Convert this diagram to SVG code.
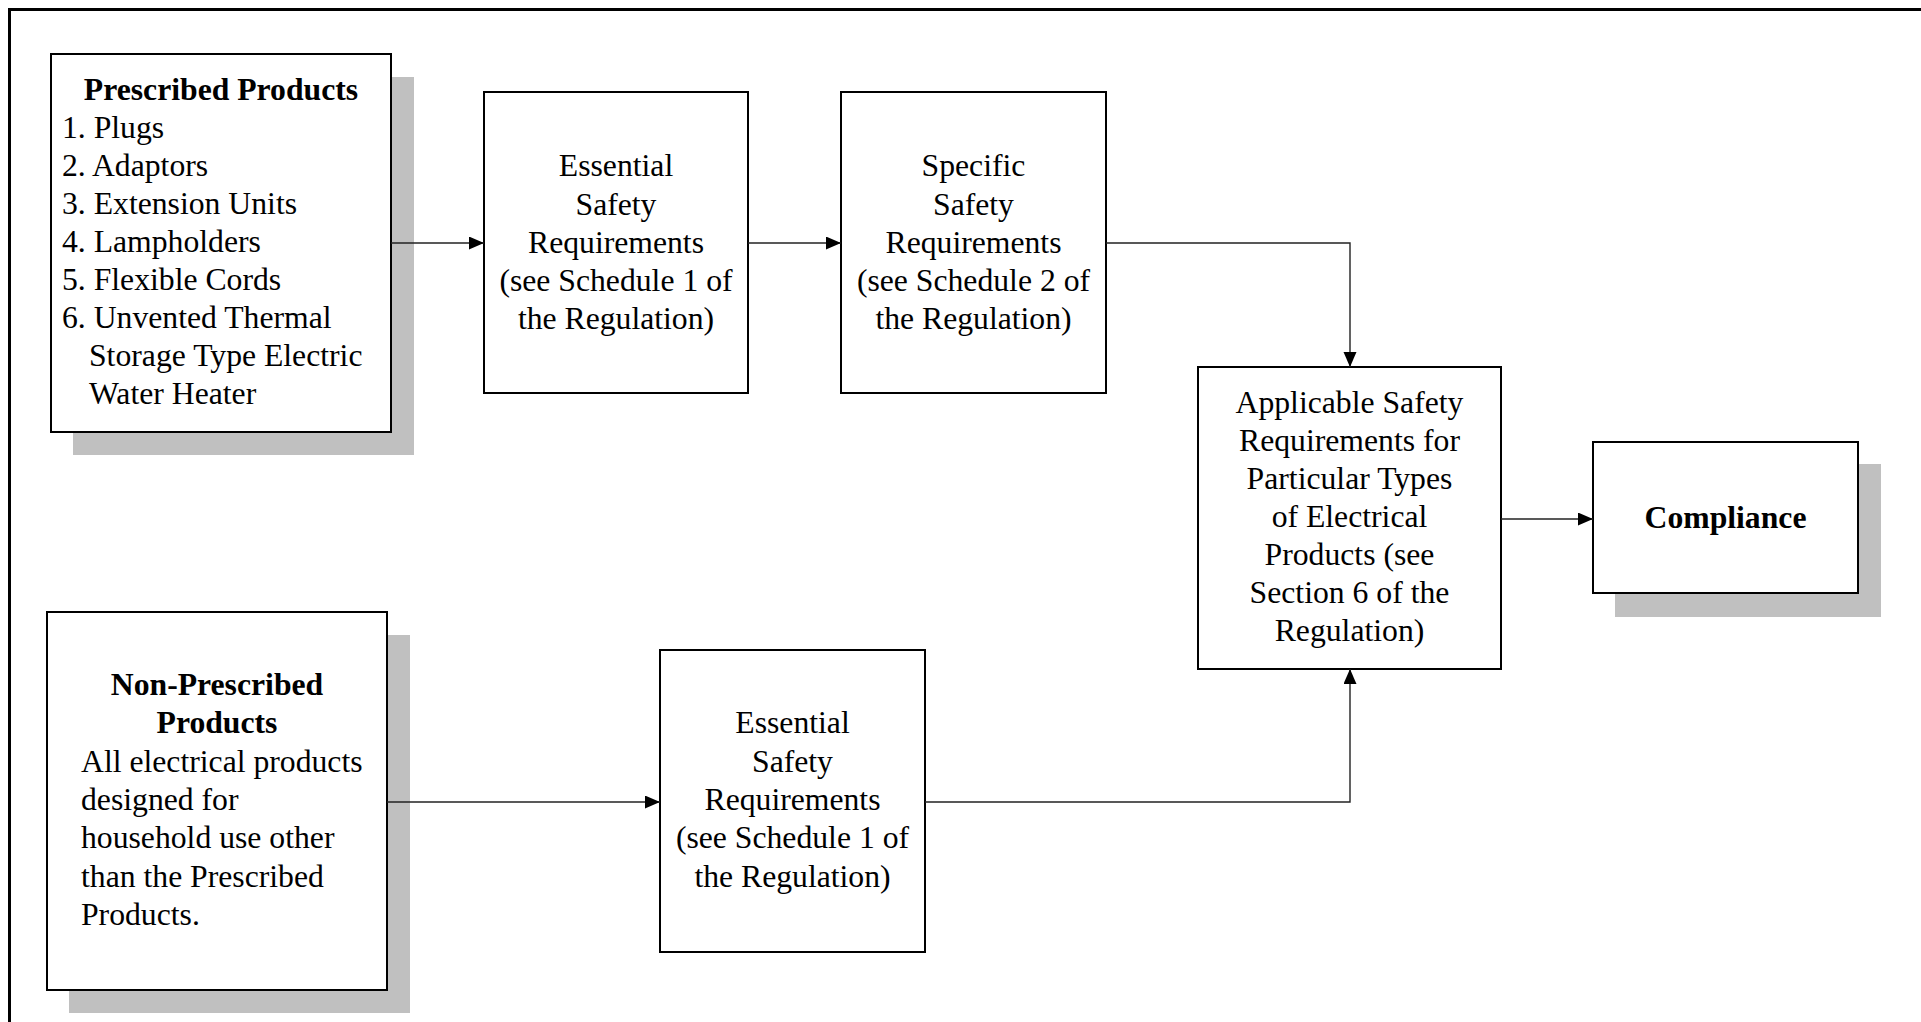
<svg xmlns="http://www.w3.org/2000/svg" width="1921" height="1022" viewBox="0 0 1921 1022">
<style>
.frame{fill:none;stroke:#000;stroke-width:3}
.shadow{fill:#c0c0c0}
.box{fill:#fff;stroke:#000;stroke-width:2}
.t{font-family:"Liberation Serif","Times New Roman",serif;font-size:31.7px;fill:#000}
.c{text-anchor:middle}
.b{font-weight:bold}
.conn{fill:none;stroke:#222;stroke-width:1.4}
</style>
<defs>
<marker id="arr" markerUnits="userSpaceOnUse" markerWidth="16" markerHeight="14" refX="15" refY="6.5" orient="auto">
<path d="M0,0 L15,6.5 L0,13 z" fill="#000"/>
</marker>
</defs>
<rect width="1921" height="1022" fill="#fff"/>
<rect class="frame" x="9.5" y="9.5" width="2000" height="2000"/>

<g id="prescribed">
<rect class="shadow" x="73" y="77" width="341" height="378"/>
<rect class="box" x="51" y="54" width="340" height="378"/>
<text class="t b c" x="221" y="100">Prescribed Products</text>
<text class="t" x="62" y="138">1. Plugs</text>
<text class="t" x="62" y="176">2. Adaptors</text>
<text class="t" x="62" y="214">3. Extension Units</text>
<text class="t" x="62" y="252">4. Lampholders</text>
<text class="t" x="62" y="290">5. Flexible Cords</text>
<text class="t" x="62" y="328">6. Unvented Thermal</text>
<text class="t" x="89" y="366">Storage Type Electric</text>
<text class="t" x="89" y="404">Water Heater</text>
</g>

<g id="essential1">
<rect class="box" x="484" y="92" width="264" height="301"/>
<text class="t c" x="616" y="176">Essential</text>
<text class="t c" x="616" y="214.5">Safety</text>
<text class="t c" x="616" y="253">Requirements</text>
<text class="t c" x="616" y="291">(see Schedule 1 of</text>
<text class="t c" x="616" y="329">the Regulation)</text>
</g>

<g id="specific">
<rect class="box" x="841" y="92" width="265" height="301"/>
<text class="t c" x="973.5" y="176">Specific</text>
<text class="t c" x="973.5" y="214.5">Safety</text>
<text class="t c" x="973.5" y="253">Requirements</text>
<text class="t c" x="973.5" y="291">(see Schedule 2 of</text>
<text class="t c" x="973.5" y="329">the Regulation)</text>
</g>

<g id="applicable">
<rect class="box" x="1198" y="367" width="303" height="302"/>
<text class="t c" x="1349.5" y="413">Applicable Safety</text>
<text class="t c" x="1349.5" y="451">Requirements for</text>
<text class="t c" x="1349.5" y="489">Particular Types</text>
<text class="t c" x="1349.5" y="527">of Electrical</text>
<text class="t c" x="1349.5" y="565">Products (see</text>
<text class="t c" x="1349.5" y="603">Section 6 of the</text>
<text class="t c" x="1349.5" y="641">Regulation)</text>
</g>

<g id="compliance">
<rect class="shadow" x="1615" y="464" width="266" height="153"/>
<rect class="box" x="1593" y="442" width="265" height="151"/>
<text class="t b c" x="1725.5" y="528">Compliance</text>
</g>

<g id="nonprescribed">
<rect class="shadow" x="69" y="635" width="341" height="378"/>
<rect class="box" x="47" y="612" width="340" height="378"/>
<text class="t b c" x="217" y="695">Non-Prescribed</text>
<text class="t b c" x="217" y="733">Products</text>
<text class="t" x="81" y="772">All electrical products</text>
<text class="t" x="81" y="810">designed for</text>
<text class="t" x="81" y="848">household use other</text>
<text class="t" x="81" y="887">than the Prescribed</text>
<text class="t" x="81" y="925">Products.</text>
</g>

<g id="essential2">
<rect class="box" x="660" y="650" width="265" height="302"/>
<text class="t c" x="792.5" y="733">Essential</text>
<text class="t c" x="792.5" y="771.5">Safety</text>
<text class="t c" x="792.5" y="810">Requirements</text>
<text class="t c" x="792.5" y="848">(see Schedule 1 of</text>
<text class="t c" x="792.5" y="887">the Regulation)</text>
</g>

<g id="connectors">
<path class="conn" d="M391,243 H484" marker-end="url(#arr)"/>
<path class="conn" d="M748,243 H841" marker-end="url(#arr)"/>
<path class="conn" d="M1106,243 H1350 V367" marker-end="url(#arr)"/>
<path class="conn" d="M1501,519 H1593" marker-end="url(#arr)"/>
<path class="conn" d="M387,802 H660" marker-end="url(#arr)"/>
<path class="conn" d="M925,802 H1350 V669" marker-end="url(#arr)"/>
</g>
</svg>
